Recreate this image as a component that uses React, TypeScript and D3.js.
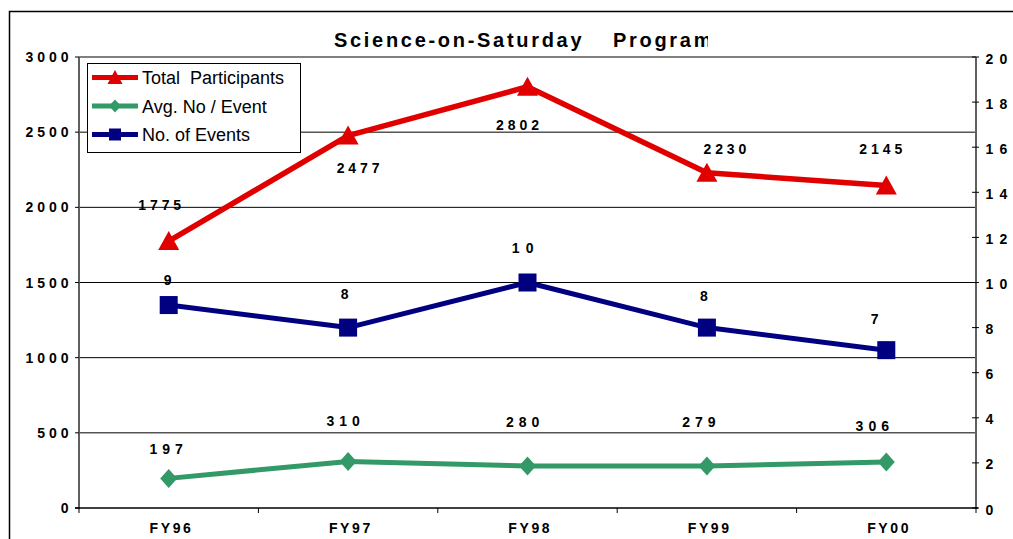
import React from "react";
import * as d3 from "d3";

const categories = ["FY96", "FY97", "FY98", "FY99", "FY00"];
const totalParticipants = [1775, 2477, 2802, 2230, 2145];
const avgPerEvent = [197, 310, 280, 279, 306];
const numEvents = [9, 8, 10, 8, 7];
const leftTicks = [0, 500, 1000, 1500, 2000, 2500, 3000];
const rightTicks = [0, 2, 4, 6, 8, 10, 12, 14, 16, 18, 20];
const gridValues = [500, 1000, 1500, 2000, 2500];

// label placement offsets (dx, dy of baseline relative to the point)
const redLabelOff = [[-9, -31], [10, 37.5], [-10, 43.7], [18, -19], [-5.5, -31.5]];
const blueLabelOff = [[-1, -20], [-3.4, -28.6], [-4.8, -29.2], [-3, -26.3], [-11.6, -26.2]];
const greenLabelOff = [[-2.5, -24], [-5, -35.4], [-4.8, -38.6], [-8, -39.4], [-14, -31]];

const W = 1013;
const H = 539;
const L = 79, R = 976, T = 57, B = 508;
const FONT = "'Liberation Sans', Arial, sans-serif";
const RED = "#E00000";
const GREEN = "#339966";
const BLUE = "#000080";
const NUM_FS = 14;

const x = d3.scaleBand<string>().domain(categories).range([L, R]);
const cx = (c: string) => (x(c) as number) + x.bandwidth() / 2;
const yL = d3.scaleLinear().domain([0, 3000]).range([B, T]);
const yR = d3.scaleLinear().domain([0, 20]).range([B, T]);

const lsFor = (s: string) => (s.length >= 4 ? 3.9 : s.length === 3 ? 5 : 6.3);

// text with gaps between characters only (no trailing space)
function Spaced({ text, gap, ...rest }: any) {
  const chars = text.split("");
  return (
    <text {...rest}>
      {chars.map((ch: string, i: number) => (
        <tspan key={i} dx={i === 0 ? 0 : gap}>
          {ch}
        </tspan>
      ))}
    </text>
  );
}

function Triangle({ x0, y0, w, h, fill }: any) {
  const p = `M${x0},${y0 - h * 0.53} L${x0 + w / 2},${y0 + h * 0.47} L${x0 - w / 2},${y0 + h * 0.47} Z`;
  return <path d={p} fill={fill} />;
}
function Square({ x0, y0, s, fill }: any) {
  return <rect x={x0 - s / 2} y={y0 - s / 2} width={s} height={s} fill={fill} />;
}
function Diamond({ x0, y0, w, h, fill }: any) {
  const p = `M${x0},${y0 - h / 2} L${x0 + w / 2},${y0} L${x0},${y0 + h / 2} L${x0 - w / 2},${y0} Z`;
  return <path d={p} fill={fill} />;
}

function DataLabel({ px, py, off, text }: any) {
  return (
    <Spaced
      text={text}
      gap={lsFor(text)}
      x={px + off[0]}
      y={py + off[1]}
      textAnchor="middle"
      fontFamily={FONT}
      fontWeight="bold"
      fontSize={NUM_FS}
      fill="#000"
    />
  );
}

export default function App() {
  const lineL = d3
    .line<number>()
    .x((_, i) => cx(categories[i]))
    .y((d) => yL(d));
  const lineR = d3
    .line<number>()
    .x((_, i) => cx(categories[i]))
    .y((d) => yR(d));

  const bandEdges = categories.map((c) => x(c) as number).concat([R]);

  return (
    <svg
      width={W}
      height={H}
      style={{ position: "absolute", left: 0, top: 0, background: "#fff" }}
    >
      <defs>
        <clipPath id="titleClip">
          <rect x={0} y={0} width={708} height={60} />
        </clipPath>
      </defs>
      <rect x={0} y={0} width={W} height={H} fill="#fff" />
      {/* outer chart border */}
      <rect x={9.5} y={11.5} width={W + 10} height={H + 10} fill="none" stroke="#000" strokeWidth={1.5} />

      {/* title */}
      <g clipPath="url(#titleClip)" fontFamily={FONT} fontWeight="bold" fontSize={20} fill="#000">
        <text x={334} y={47} letterSpacing={2.7}>Science-on-Saturday</text>
        <text x={613} y={47} letterSpacing={2.7}>Program</text>
      </g>

      {/* gridlines */}
      {gridValues.map((v) => (
        <line key={v} x1={L} x2={R} y1={yL(v)} y2={yL(v)} stroke="#000" strokeWidth={1} />
      ))}

      {/* plot border */}
      <line x1={L} x2={R} y1={T} y2={T} stroke="#808080" strokeWidth={2} />
      <line x1={L} x2={L} y1={T} y2={B + 1} stroke="#606060" strokeWidth={2} />
      <line x1={R} x2={R} y1={T} y2={B + 1} stroke="#606060" strokeWidth={2} />
      <line x1={L - 4} x2={R + 2} y1={B} y2={B} stroke="#000" strokeWidth={1.5} />

      {/* left ticks */}
      {leftTicks.map((v) => (
        <g key={"l" + v}>
          <line x1={L - 4} x2={L} y1={yL(v)} y2={yL(v)} stroke="#000" strokeWidth={1} />
          <Spaced
            text={String(v)}
            gap={3.9}
            x={68.5}
            y={yL(v)}
            dy="0.36em"
            textAnchor="end"
            fontFamily={FONT}
            fontWeight="bold"
            fontSize={NUM_FS}
          />
        </g>
      ))}

      {/* right ticks */}
      {rightTicks.map((v) => (
        <g key={"r" + v}>
          <line x1={R - 4} x2={R + 3} y1={yR(v)} y2={yR(v)} stroke="#000" strokeWidth={1} />
          <Spaced
            text={String(v)}
            gap={6.2}
            x={985.5}
            y={yR(v) + 1.5}
            dy="0.36em"
            textAnchor="start"
            fontFamily={FONT}
            fontWeight="bold"
            fontSize={NUM_FS}
          />
        </g>
      ))}

      {/* bottom ticks */}
      {bandEdges.map((e, i) => (
        <line key={"b" + i} x1={e} x2={e} y1={B} y2={B + 5} stroke="#000" strokeWidth={1} />
      ))}
      {categories.map((c) => (
        <Spaced
          key={c}
          text={c}
          gap={2.6}
          x={cx(c) + 1.5}
          y={533}
          textAnchor="middle"
          fontFamily={FONT}
          fontWeight="bold"
          fontSize={NUM_FS}
        />
      ))}

      {/* series lines */}
      <path d={lineL(avgPerEvent) || ""} fill="none" stroke={GREEN} strokeWidth={5} strokeLinejoin="round" />
      <path d={lineR(numEvents) || ""} fill="none" stroke={BLUE} strokeWidth={5} strokeLinejoin="round" />
      <path d={lineL(totalParticipants) || ""} fill="none" stroke={RED} strokeWidth={5.5} strokeLinejoin="round" />

      {/* markers */}
      {avgPerEvent.map((v, i) => (
        <Diamond key={"gd" + i} x0={cx(categories[i])} y0={yL(v)} w={17} h={19} fill={GREEN} />
      ))}
      {numEvents.map((v, i) => (
        <Square key={"bs" + i} x0={cx(categories[i])} y0={yR(v)} s={18} fill={BLUE} />
      ))}
      {totalParticipants.map((v, i) => (
        <Triangle key={"rt" + i} x0={cx(categories[i])} y0={yL(v)} w={21} h={19} fill={RED} />
      ))}

      {/* data labels */}
      {totalParticipants.map((v, i) => (
        <DataLabel key={"rl" + i} px={cx(categories[i])} py={yL(v)} off={redLabelOff[i]} text={String(v)} />
      ))}
      {numEvents.map((v, i) => (
        <DataLabel key={"bl" + i} px={cx(categories[i])} py={yR(v)} off={blueLabelOff[i]} text={String(v)} />
      ))}
      {avgPerEvent.map((v, i) => (
        <DataLabel key={"gl" + i} px={cx(categories[i])} py={yL(v)} off={greenLabelOff[i]} text={String(v)} />
      ))}

      {/* legend */}
      <g>
        <rect x={87.5} y={63.5} width={213} height={89} fill="#fff" stroke="#000" strokeWidth={1} />
        {[
          { label: "Total  Participants", color: RED, y: 77.5, kind: "tri" },
          { label: "Avg. No / Event", color: GREEN, y: 106, kind: "dia" },
          { label: "No. of Events", color: BLUE, y: 134.5, kind: "sq" },
        ].map((it) => (
          <g key={it.label}>
            <line x1={92} x2={138} y1={it.y} y2={it.y} stroke={it.color} strokeWidth={5} />
            {it.kind === "tri" && <Triangle x0={115} y0={it.y} w={15} h={14} fill={it.color} />}
            {it.kind === "dia" && <Diamond x0={115} y0={it.y} w={12} h={13} fill={it.color} />}
            {it.kind === "sq" && <Square x0={115} y0={it.y} s={12} fill={it.color} />}
            <text
              x={142}
              y={it.y + 6.5}
              fontFamily={FONT}
              fontSize={18}
              fill="#000"
              style={{ whiteSpace: "pre" }}
            >
              {it.label}
            </text>
          </g>
        ))}
      </g>
    </svg>
  );
}
